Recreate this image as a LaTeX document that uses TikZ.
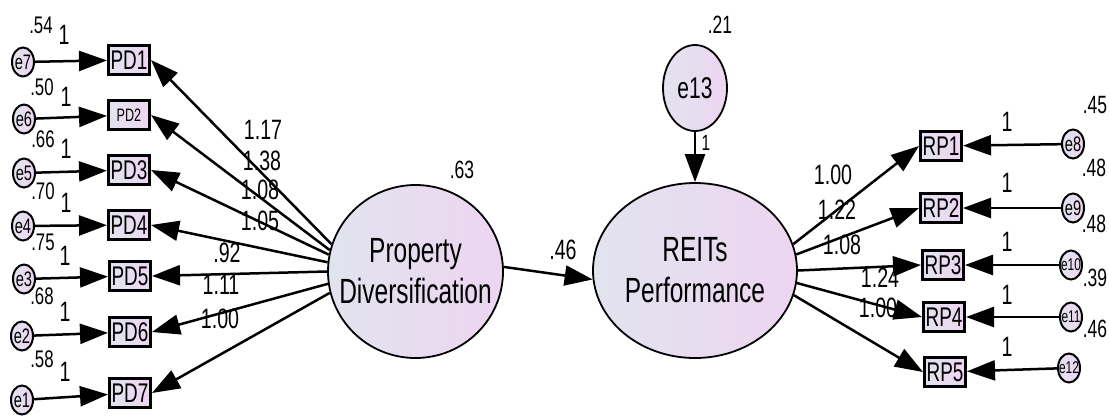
\documentclass[tikz,border=0pt]{standalone}
\usepackage{fontspec}
\setmainfont{Liberation Sans}[FakeStretch=0.7]
\usetikzlibrary{shapes.geometric,arrows.meta}
\definecolor{gl}{HTML}{E1E4EE}
\definecolor{gr}{HTML}{EDD5F1}
\tikzset{
  lat/.style={ellipse, draw, line width=1.8pt, left color=gl, right color=gr,
    inner xsep=-45pt, inner ysep=-15pt,
    minimum width=175pt, minimum height=173pt, align=center, font=\fontsize{35}{41}\selectfont},
  errbig/.style={ellipse, draw, line width=1.8pt, left color=gl, right color=gr, inner sep=-5pt,
    minimum width=64pt, minimum height=86pt, font=\fontsize{30}{30}\selectfont},
  obs/.style={rectangle, draw, line width=3pt, left color=gl, right color=gr, inner sep=0pt,
    minimum width=41pt, minimum height=29pt, font=\fontsize{27}{27}\selectfont},
  err/.style={ellipse, draw, line width=2pt, left color=gl, right color=gr,
    inner xsep=-12pt, inner ysep=-4pt,
    minimum width=22pt, minimum height=29pt, font=\fontsize{21}{21}\selectfont},
  errsmall/.style={err, font=\fontsize{17}{17}\selectfont},
  arr/.style={line width=2.5pt, -{Triangle[length=28pt,width=20pt]}},
  lbl/.style={inner sep=0pt, font=\fontsize{28}{28}\selectfont},
  vlbl/.style={inner sep=0pt, font=\fontsize{24}{24}\selectfont},
  mlbl/.style={inner sep=0pt, font=\fontsize{25}{25}\selectfont},
  one/.style={inner sep=0pt, font=\fontsize{28}{28}\selectfont},
}
\begin{document}
\begin{tikzpicture}[x=1pt,y=-1pt]
\useasboundingbox (0,0) rectangle (1109,416);
% latent variables
\node[lat] (PD) at (415.5,271.5) {Property\\Diversification};
\node[lat, minimum width=204pt, minimum height=175pt] (RE) at (695,270.5) {REITs\\Performance};
\node[errbig] (e13) at (695,88) {e13};
% PD indicators
\node[obs] (PD1) at (129,60) {PD1};
\node[obs, font=\fontsize{18}{18}\selectfont] (PD2) at (129,115) {PD2};
\node[obs] (PD3) at (129,170) {PD3};
\node[obs] (PD4) at (129,225) {PD4};
\node[obs] (PD5) at (130,276) {PD5};
\node[obs] (PD6) at (130,332) {PD6};
\node[obs] (PD7) at (130,393) {PD7};
% left errors
\node[err] (e7) at (23,62) {e7};
\node[err] (e6) at (24,119) {e6};
\node[err] (e5) at (24,173) {e5};
\node[err] (e4) at (23,226) {e4};
\node[err] (e3) at (24,279) {e3};
\node[err] (e2) at (22,336) {e2};
\node[err] (e1) at (22,400) {e1};
% RP indicators
\node[obs] (RP1) at (941,146) {RP1};
\node[obs] (RP2) at (941,208) {RP2};
\node[obs] (RP3) at (943,265) {RP3};
\node[obs] (RP4) at (944,317) {RP4};
\node[obs] (RP5) at (945,372) {RP5};
% right errors
\node[err] (e8) at (1073,144) {e8};
\node[err] (e9) at (1073,208) {e9};
\node[errsmall] (e10) at (1071,265) {e10};
\node[errsmall] (e11) at (1071,317) {e11};
\node[errsmall] (e12) at (1069,368) {e12};
% connectors
\foreach \e/\p in {e7/PD1,e6/PD2,e5/PD3,e4/PD4,e3/PD5,e2/PD6,e1/PD7}
  \draw[arr] (\e) -- (\p);
\foreach \a/\p in {162.6/PD1,166/PD2,169.4/PD3,174/PD4,180/PD5,188/PD6,194/PD7}
  \draw[arr] (PD.\a) -- (\p.east);
\draw[arr] (PD.3) -- (RE.185);
\draw[arr] (e13) -- (RE);
\foreach \a/\p in {15.3/RP1,9.9/RP2,0/RP3,353.4/RP4,346.7/RP5}
  \draw[arr] (RE.\a) -- (\p.west);
\foreach \e/\p in {e8/RP1,e9/RP2,e10/RP3,e11/RP4,e12/RP5}
  \draw[arr] (\e) -- (\p);
% left variance labels
\node[vlbl] (v7) at (41,25) {.54};
\node[vlbl] (v6) at (42,87) {.50};
\node[vlbl] (v5) at (43,139) {.66};
\node[vlbl] (v4) at (43,191) {.70};
\node[vlbl] (v3) at (43,242) {.75};
\node[vlbl] (v2) at (42,296) {.68};
\node[vlbl] (v1) at (42,359) {.58};
% left "1" labels
\node[one] (o7) at (64,35) {1};
\node[one] (o6) at (66,97) {1};
\node[one] (o5) at (66,149) {1};
\node[one] (o4) at (66,203) {1};
\node[one] (o3) at (65,256) {1};
\node[one] (o2) at (65,312) {1};
\node[one] (o1) at (65,372) {1};
% left loadings
\node[lbl] (w1) at (263,130) {1.17};
\node[lbl] (w2) at (262,161) {1.38};
\node[lbl] (w3) at (260,190) {1.08};
\node[lbl] (w4) at (260,221) {1.05};
\node[lbl] (w5) at (227,253) {.92};
\node[lbl] (w6) at (221,285) {1.11};
\node[lbl] (w7) at (220,319) {1.00};
% centre labels
\node[mlbl] (vpd) at (462,170) {.63};
\node[lbl] (b46) at (563,250) {.46};
\node[mlbl] (v13) at (720,25) {.21};
\node[inner sep=0pt, font=\fontsize{22}{22}\selectfont] (o13) at (706,143) {1};
% right loadings
\node[lbl] (r1) at (833,175) {1.00};
\node[lbl] (r2) at (837,210) {1.22};
\node[lbl] (r3) at (842,245) {1.08};
\node[lbl] (r4) at (880,278) {1.24};
\node[lbl] (r5) at (878,308) {1.00};
% right "1" labels
\node[one] (q1) at (1007,122) {1};
\node[one] (q2) at (1007,183) {1};
\node[one] (q3) at (1007,242) {1};
\node[one] (q4) at (1007,295) {1};
\node[one] (q5) at (1007,347) {1};
% right variance labels
\node[mlbl] (u8) at (1095,105) {.45};
\node[mlbl] (u9) at (1094,168) {.48};
\node[mlbl] (u10) at (1094,224) {.48};
\node[mlbl] (u11) at (1095,278) {.39};
\node[mlbl] (u12) at (1095,329) {.46};
\end{tikzpicture}
\end{document}
